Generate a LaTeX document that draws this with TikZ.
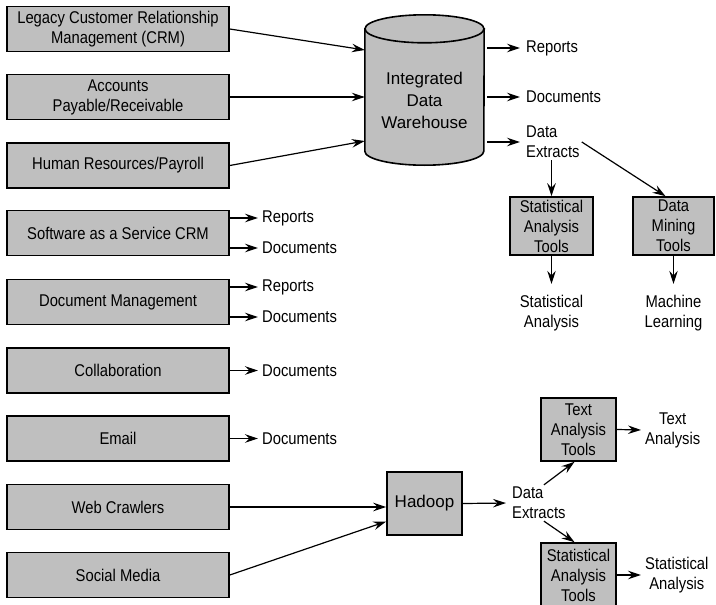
\documentclass[tikz,border=0pt]{standalone}
\usepackage{fontspec}
\setmainfont[FakeStretch=0.87]{Liberation Sans}
\newfontfamily\widefont{Liberation Sans}
\usepackage{tikz}
\usetikzlibrary{arrows.meta,calc,positioning}

\tikzset{
	src/.style={draw, line width=1.6pt, fill=gray!50, minimum width=222pt, minimum height=45pt, align=center, inner sep=1pt},
	tool/.style={draw, line width=1.6pt, fill=gray!50, align=center, inner sep=1pt},
	lbl/.style={align=center, inner sep=2pt},
	flow/.style={-{Stealth[length=13pt,width=8.5pt,inset=4.5pt]}, line width=1.2pt},
}

\begin{document}
\begin{tikzpicture}[x=1pt, y=-1pt, font=\fontsize{17}{20}\selectfont]
		\useasboundingbox (0,0) rectangle (716,605);
		
		\node[src] (crm) at (118,29) {Legacy Customer Relationship\\Management (CRM)};
		\node[src] (ap) at (118,97) {Accounts\\Payable/Receivable};
		\node[src] (hr) at (118,165.5) {Human Resources/Payroll};
		\node[src] (saas) at (118,233) {Software as a Service CRM};
		\node[src] (dms) at (118,302) {Document Management};
		\node[src] (collab) at (118,370.5) {Collaboration};
		\node[src] (email) at (118,438.5) {Email};
		\node[src] (web) at (118,507) {Web Crawlers};
		\node[src] (social) at (118,575) {Social Media};
		
		\node[minimum width=119pt, minimum height=122pt, inner sep=0pt] (dw) at (424.5,90) {};
		\draw[line width=1.6pt, fill=gray!50] (dw.north west) -- (dw.south west)
			arc[start angle=180, end angle=360, x radius=59.5pt, y radius=14pt]
			-- (dw.north east) -- cycle;
		\draw[line width=1.6pt, fill=gray!50] (dw.north) ellipse[x radius=59.5pt, y radius=14pt];
		\node[align=center, font=\widefont\fontsize{17}{22}\selectfont] (dwl) at (424.5,100) {Integrated\\Data\\Warehouse};
		
		\draw[flow] (crm.east) -- ([yshift=40pt]dw.west);
		\draw[flow] (ap.east) -- ([yshift=-7pt]dw.west);
		\draw[flow] (hr.east) -- ([yshift=-51pt]dw.west);
		
		\node[lbl, anchor=west] (rep) at (524,48) {Reports};
		\node[lbl, anchor=west] (doc) at (524,97) {Documents};
		\node[lbl, anchor=west, align=left] (dx1) at (524,142) {Data\\Extracts};
		\draw[flow, shorten >=4pt] ($(dw.east |- rep.west)+(3,0)$) -- (rep.west);
		\draw[flow, shorten >=4pt] ($(dw.east |- doc.west)+(3,0)$) -- (doc.west);
		\draw[flow, shorten >=4pt] ($(dw.east |- dx1.west)+(3,0)$) -- (dx1.west);
		
		\node[tool, minimum width=83pt, minimum height=58pt] (sat) at (551.5,226) {Statistical\\Analysis\\Tools};
		\node[tool, minimum width=81pt, minimum height=58pt] (dmt) at (673.5,226) {Data\\Mining\\Tools};
		\draw[flow] (dx1.south -| sat.north) -- (sat.north);
		\draw[flow] (dx1.east) -- ([xshift=-8pt]dmt.north);
		\node[lbl] (sa) at (551.5,313) {Statistical\\Analysis};
		\node[lbl] (ml) at (673.5,313) {Machine\\Learning};
		\draw[flow] (sat.south) -- ([yshift=9pt]sa.north);
		\draw[flow] (dmt.south) -- ([yshift=9pt]ml.north);
		
		\node[lbl, anchor=west] (rep2) at (260,218) {Reports};
		\node[lbl, anchor=west] (doc2) at (260,248) {Documents};
		\node[lbl, anchor=west] (rep3) at (260,287) {Reports};
		\node[lbl, anchor=west] (doc3) at (260,317) {Documents};
		\node[lbl, anchor=west] (doc4) at (260,370.5) {Documents};
		\node[lbl, anchor=west] (doc5) at (260,438.5) {Documents};
		\draw[flow, shorten >=2pt] (saas.east |- rep2.west) -- (rep2.west);
		\draw[flow, shorten >=2pt] (saas.east |- doc2.west) -- (doc2.west);
		\draw[flow, shorten >=2pt] (dms.east |- rep3.west) -- (rep3.west);
		\draw[flow, shorten >=2pt] (dms.east |- doc3.west) -- (doc3.west);
		\draw[flow, shorten >=2pt] (collab.east) -- (doc4.west);
		\draw[flow, shorten >=2pt] (email.east) -- (doc5.west);
		
		\node[tool, minimum width=75pt, minimum height=63pt, font=\widefont\fontsize{17}{20}\selectfont] (hdp) at (424.5,503.5) {Hadoop};
		\draw[flow] (web.east) -- (hdp.west |- web.east);
		\draw[flow] (social.east) -- ([yshift=-18pt]hdp.west);
		\node[lbl, anchor=west, align=left] (dx2) at (510,503) {Data\\Extracts};
		\draw[flow, shorten >=4pt] (hdp.east) -- (dx2.west);
		
		\node[tool, minimum width=75pt, minimum height=63pt] (tat) at (578.5,429.5) {Text\\Analysis\\Tools};
		\node[tool, minimum width=75pt, minimum height=64pt] (sat2) at (578.5,575) {Statistical\\Analysis\\Tools};
		\draw[flow] ([xshift=5pt]dx2.north) -- ([xshift=-4pt]tat.south);
		\draw[flow] ([xshift=5pt]dx2.south) -- ([xshift=-4pt]sat2.north);
		\node[lbl, anchor=west] (ta) at (643,430) {Text\\Analysis};
		\node[lbl, anchor=west] (sa2) at (643,575) {Statistical\\Analysis};
		\draw[flow, shorten >=2pt] (tat.east) -- (ta.west);
		\draw[flow, shorten >=2pt] (sat2.east) -- (sa2.west);
	\end{tikzpicture}
\end{document}
